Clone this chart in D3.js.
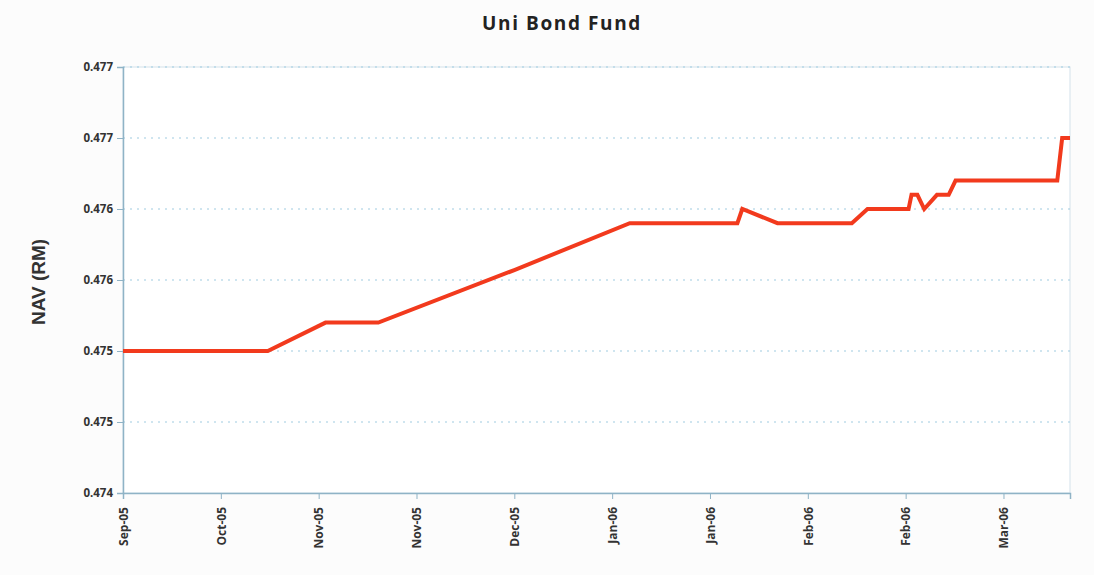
<!DOCTYPE html>
<html>
<head>
<meta charset="utf-8">
<script src="https://cdn.jsdelivr.net/npm/d3@7"></script>
<style>
  body { margin: 0; background: #fcfcfc; }
  svg { display: block; }
</style>
</head>
<body>
<div id="chart"></div>
<script>
// tick labels (x axis positions are tick indexes 0..9)
const xTickLabels = ["Sep-05","Oct-05","Nov-05","Nov-05","Dec-05","Jan-06","Jan-06","Feb-06","Feb-06","Mar-06"];
const yTicks = [0.4740, 0.4745, 0.4750, 0.4755, 0.4760, 0.4765, 0.4770];
const yTickLabels = ["0.474","0.475","0.475","0.476","0.476","0.477","0.477"];

// line points: position along the tick index axis, NAV value
const navPos = [0, 1.48, 2.07, 2.61, 4.0, 5.18, 6.28, 6.33, 6.69, 7.45, 7.61, 8.03, 8.06, 8.12, 8.19, 8.32, 8.44, 8.51, 9.55, 9.60, 9.68];
const navVal = [0.4750, 0.4750, 0.4752, 0.4752, 0.47557, 0.4759, 0.4759, 0.4760, 0.4759, 0.4759, 0.4760, 0.4760, 0.4761, 0.4761, 0.4760, 0.4761, 0.4761, 0.4762, 0.4762, 0.4765, 0.4765];

const chartWidth = 1094;
const chartHeight = 575;
const margin = { top: 67, right: 24, bottom: 82, left: 123 };
const width = chartWidth - margin.left - margin.right;
const height = chartHeight - margin.top - margin.bottom;

const svg = d3.select("#chart")
    .append("svg")
    .attr("width", chartWidth)
    .attr("height", chartHeight);

svg.append("text")
    .attr("x", 562)
    .attr("y", 30)
    .attr("text-anchor", "middle")
    .style("font-family", "'Open Sans', sans-serif")
    .style("font-weight", "bold")
    .style("font-size", "19px")
    .style("letter-spacing", "1.6px")
    .attr("fill", "#222")
    .text("Uni Bond Fund");

const g = svg.append("g")
    .attr("transform", `translate(${margin.left}, ${margin.top})`);

const xScale = d3.scaleLinear()
    .domain([0, 9.68])
    .range([0, width]);

const yScale = d3.scaleLinear()
    .domain([0.4740, 0.4770])
    .range([height, 0]);

// plot background + border
g.append("rect")
    .attr("width", width)
    .attr("height", height)
    .attr("fill", "#ffffff")
    .attr("stroke", "#d3e1ea")
    .attr("stroke-width", 1);

// grid lines
g.selectAll(".grid")
    .data(yTicks.slice(1))
    .enter().append("line")
    .attr("class", "grid")
    .attr("x1", 0)
    .attr("x2", width)
    .attr("y1", d => yScale(d))
    .attr("y2", d => yScale(d))
    .attr("stroke", "#9fcbe0")
    .attr("stroke-width", 1)
    .attr("stroke-dasharray", "2,5");

const yAxis = d3.axisLeft(yScale)
    .tickValues(yTicks)
    .tickFormat((d, i) => yTickLabels[i])
    .tickSize(6)
    .tickPadding(4);

const xAxis = d3.axisBottom(xScale)
    .tickValues(d3.range(xTickLabels.length))
    .tickFormat((d, i) => xTickLabels[i])
    .tickSize(6);

const yG = g.append("g").call(yAxis);
yG.select(".domain").attr("stroke", "#8fb3c6").attr("stroke-width", 1.5);
yG.selectAll(".tick line").attr("stroke", "#8fb3c6");
yG.selectAll(".tick text")
    .style("font-family", "'Open Sans', sans-serif")
    .style("font-weight", "bold")
    .style("font-size", "11.5px")
    .attr("fill", "#333");

const xG = g.append("g")
    .attr("transform", `translate(0, ${height})`)
    .call(xAxis);
xG.select(".domain").attr("stroke", "#8fb3c6").attr("stroke-width", 1.5);
xG.selectAll(".tick line").attr("stroke", "#8fb3c6");
xG.selectAll(".tick text")
    .attr("transform", "rotate(-90)")
    .attr("x", -14)
    .attr("y", 0)
    .attr("dy", "0.35em")
    .attr("text-anchor", "end")
    .style("font-family", "'Open Sans', sans-serif")
    .style("font-weight", "bold")
    .style("font-size", "12px")
    .attr("fill", "#333");

const navData = navPos.map((p, i) => ({ pos: p, value: navVal[i] }));

const line = d3.line()
    .x(d => xScale(d.pos))
    .y(d => yScale(d.value));

g.append("path")
    .datum(navData)
    .attr("d", line)
    .attr("fill", "none")
    .attr("stroke", "#f23a1d")
    .attr("stroke-width", 4)
    .attr("stroke-linejoin", "miter");

svg.append("text")
    .attr("transform", "rotate(-90)")
    .attr("x", -282)
    .attr("y", 45)
    .attr("text-anchor", "middle")
    .style("font-family", "'Liberation Sans', Arial, sans-serif")
    .style("font-weight", "bold")
    .style("font-size", "19px")
    .attr("fill", "#333")
    .text("NAV (RM)");
</script>
</body>
</html>
